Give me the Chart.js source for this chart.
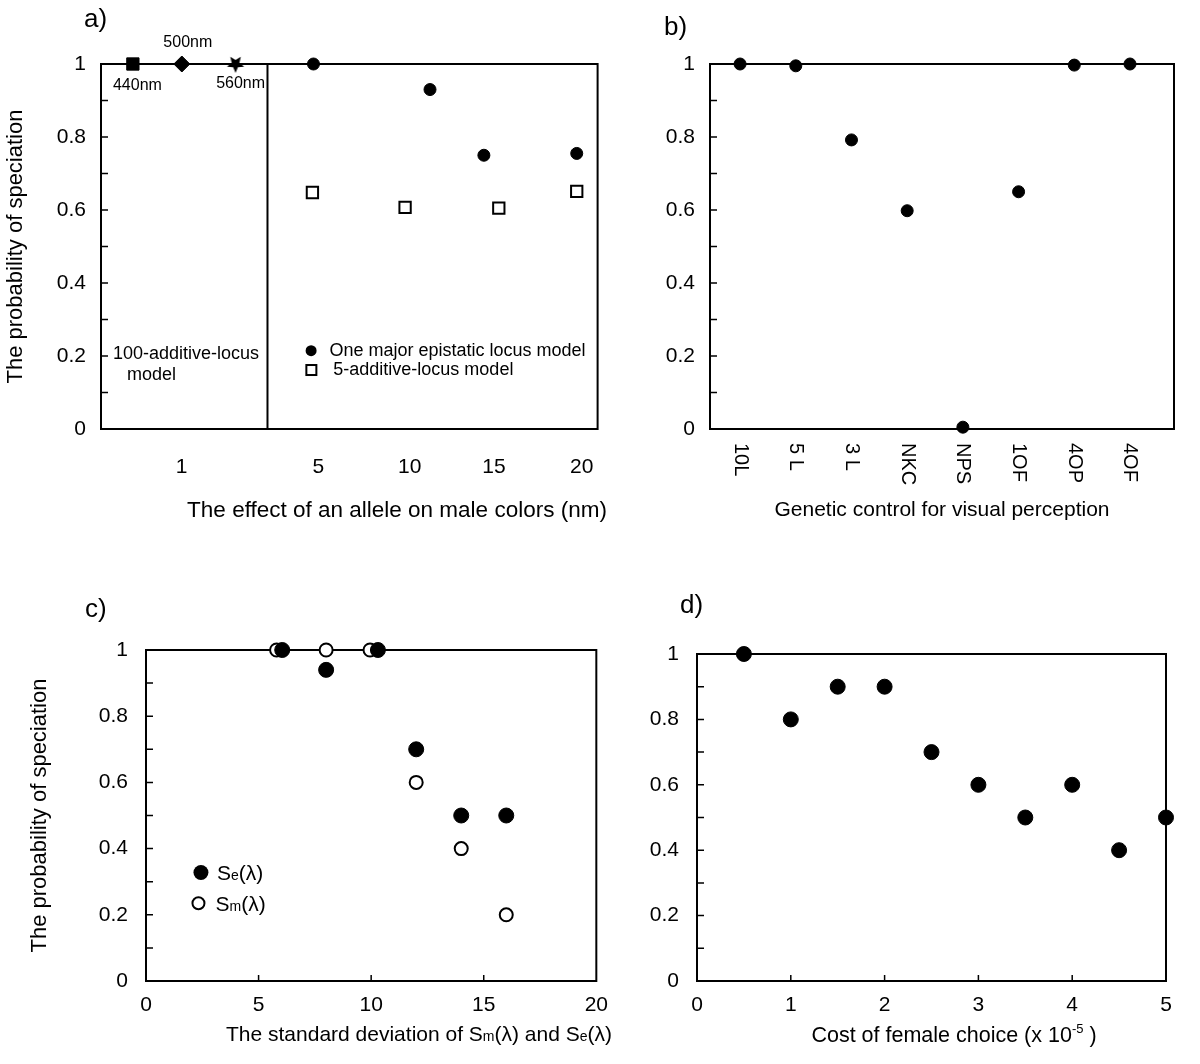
<!DOCTYPE html>
<html>
<head>
<meta charset="utf-8">
<script src="https://cdn.jsdelivr.net/npm/chart.js@4.4.1/dist/chart.umd.min.js"></script>
<style>
  html, body { margin: 0; padding: 0; background: #fff; }
  #page { position: relative; width: 1200px; height: 1064px; }
  canvas { position: absolute; }
</style>
</head>
<body>
<div id="page">
  <canvas id="chartA" width="620" height="540" style="left:0;top:0"></canvas>
  <canvas id="chartB" width="580" height="540" style="left:620px;top:0"></canvas>
  <canvas id="chartC" width="620" height="524" style="left:0;top:540px"></canvas>
  <canvas id="chartD" width="580" height="524" style="left:620px;top:540px"></canvas>
</div>
<script>
// a) effet d'un allele sur la couleur des males
const aTickPos = [-2.8, 5, 10.2, 15, 20];
const aTickLabels = ['1', '5', '10', '15', '20'];
const aWaveX = [-5.57, -2.78, 0.28];
const aWaveY = [1, 1, 1];
const aWaveLabels = ['440nm', '500nm', '560nm'];
const aEpiX = [4.72, 11.36, 14.43, 19.72];
const aEpiY = [1, 0.93, 0.75, 0.755];
const aAddX = [4.66, 9.94, 15.28, 19.72];
const aAddY = [0.648, 0.607, 0.605, 0.651];
const aDivider = 2.1;

// b) controle genetique de la perception
const bCategories = ['10L', '5 L', '3 L', 'NKC', 'NPS', '1OF', '4OP', '4OF'];
const bValues = [1, 0.995, 0.792, 0.598, 0.005, 0.65, 0.997, 1];

// c) ecart-type de Sm et Se
const cSeX = [6.05, 8, 10.3, 12, 14, 16];
const cSeY = [1, 0.94, 1, 0.7, 0.5, 0.5];
const cSmX = [5.8, 8, 9.95, 12, 14, 16];
const cSmY = [1, 1, 1, 0.6, 0.4, 0.2];
const cTicks = [5, 10, 15];

// d) cout du choix des femelles
const dCost = [0.5, 1, 1.5, 2, 2.5, 3, 3.5, 4, 4.5, 5];
const dProb = [1, 0.8, 0.9, 0.9, 0.7, 0.6, 0.5, 0.6, 0.4, 0.5];
const dTicks = [1, 2, 3, 4];

const yMinorTicks = [0, 0.1, 0.2, 0.3, 0.4, 0.5, 0.6, 0.7, 0.8, 0.9, 1];

const FONT = '"Liberation Sans", Arial, Helvetica, sans-serif';
Chart.defaults.font.family = FONT;
Chart.defaults.color = '#000';

function pts(xs, ys) {
    return xs.map((x, i) => ({ x: x, y: ys[i] }));
}

// texte en plusieurs morceaux (indices, exposants)
function drawParts(ctx, parts, x, y, align) {
    let total = 0;
    parts.forEach(p => {
        ctx.font = p[1] + 'px ' + FONT;
        total += ctx.measureText(p[0]).width;
    });
    let cx = align === 'center' ? x - total / 2 : x;
    ctx.textAlign = 'left';
    ctx.textBaseline = 'alphabetic';
    ctx.fillStyle = '#000';
    parts.forEach(p => {
        ctx.font = p[1] + 'px ' + FONT;
        ctx.fillText(p[0], cx, y + (p[2] || 0));
        cx += ctx.measureText(p[0]).width;
    });
}

function makeStar(r) {
    const c = document.createElement('canvas');
    const s = Math.ceil(r * 2 + 2);
    c.width = s;
    c.height = s;
    const g = c.getContext('2d');
    g.translate(s / 2, s / 2);
    g.beginPath();
    for (let i = 0; i < 10; i++) {
        const rad = i % 2 ? r * 0.45 : r;
        const ang = Math.PI / 2 + i * Math.PI / 5;
        g.lineTo(Math.cos(ang) * rad, Math.sin(ang) * rad);
    }
    g.closePath();
    g.fillStyle = '#000';
    g.fill();
    return c;
}

// cadre + graduations vers l'interieur
function makeFrame(yTicks, xTicks) {
    return {
        id: 'frame',
        beforeDatasetsDraw(chart) {
            const { ctx, chartArea: a, scales } = chart;
            ctx.save();
            ctx.strokeStyle = '#000';
            ctx.lineWidth = 2;
            ctx.strokeRect(a.left, a.top, a.right - a.left, a.bottom - a.top);
            ctx.lineWidth = 1.5;
            ctx.beginPath();
            yTicks.forEach(v => {
                const y = scales.y.getPixelForValue(v);
                ctx.moveTo(a.left, y);
                ctx.lineTo(a.left + 7, y);
            });
            xTicks.forEach(v => {
                const x = scales.x.getPixelForValue(v);
                ctx.moveTo(x, a.bottom);
                ctx.lineTo(x, a.bottom - 6);
            });
            ctx.stroke();
            ctx.restore();
        }
    };
}

function panelLabel(text, x, y) {
    return {
        id: 'panelLabel',
        afterDraw(chart) {
            const ctx = chart.ctx;
            ctx.save();
            ctx.font = '26px ' + FONT;
            ctx.fillStyle = '#000';
            ctx.textAlign = 'left';
            ctx.textBaseline = 'alphabetic';
            ctx.fillText(text, x, y);
            ctx.restore();
        }
    };
}

function yAxis(width, title, titlePad, tickPad) {
    return {
        min: 0,
        max: 1,
        ticks: {
            stepSize: 0.2,
            padding: tickPad,
            font: { size: 21 },
            color: '#000',
            callback: v => String(Math.round(v * 10) / 10)
        },
        grid: { display: false, drawTicks: false },
        border: { display: false },
        title: {
            display: !!title,
            text: title,
            font: { size: 22 },
            color: '#000',
            padding: { top: titlePad, bottom: 0 }
        },
        afterFit: s => { s.width = width; }
    };
}

function baseOptions(padding) {
    return {
        responsive: false,
        animation: false,
        events: [],
        layout: { padding: padding },
        plugins: { legend: { display: false }, tooltip: { enabled: false } }
    };
}

// ---------- a) ----------
const optsA = baseOptions({ top: 64, right: 21, left: 0, bottom: 0 });
optsA.scales = {
    x: {
        type: 'linear',
        min: -7.386,
        max: 20.909,
        afterBuildTicks: s => { s.ticks = aTickPos.map(v => ({ value: v })); },
        ticks: {
            callback: (v, i) => aTickLabels[i],
            autoSkip: false,
            maxRotation: 0,
            padding: 26,
            font: { size: 21 },
            color: '#000'
        },
        grid: { display: false, drawTicks: false },
        border: { display: false },
        afterFit: s => { s.height = 111; }
    },
    y: yAxis(101, 'The probability of speciation', 3, 15)
};

const annotA = {
    id: 'annotA',
    beforeDatasetsDraw(chart) {
        const { ctx, chartArea: a, scales: { x } } = chart;
        ctx.save();
        ctx.strokeStyle = '#000';
        ctx.lineWidth = 2;
        ctx.beginPath();
        ctx.moveTo(x.getPixelForValue(aDivider), a.top);
        ctx.lineTo(x.getPixelForValue(aDivider), a.bottom);
        ctx.stroke();
        ctx.restore();
    },
    afterDraw(chart) {
        const { ctx, scales: { x, y } } = chart;
        ctx.save();
        ctx.fillStyle = '#000';
        ctx.font = '16px ' + FONT;
        ctx.textAlign = 'center';
        ctx.textBaseline = 'middle';
        const wavePos = [[-5.31, 0.94], [-2.44, 1.06], [0.57, 0.945]];
        aWaveLabels.forEach((t, i) => {
            ctx.fillText(t, x.getPixelForValue(wavePos[i][0]), y.getPixelForValue(wavePos[i][1]));
        });
        ctx.font = '18px ' + FONT;
        ctx.textAlign = 'left';
        ctx.fillText('100-additive-locus', x.getPixelForValue(-6.7), y.getPixelForValue(0.2055));
        ctx.fillText('model', x.getPixelForValue(-5.91), y.getPixelForValue(0.148));

        // legende
        const lx1 = x.getPixelForValue(4.585), ly1 = y.getPixelForValue(0.2145);
        ctx.beginPath();
        ctx.arc(lx1, ly1, 5.5, 0, Math.PI * 2);
        ctx.fill();
        ctx.fillText('One major epistatic locus model', x.getPixelForValue(5.63), ly1);
        const lx2 = x.getPixelForValue(4.6), ly2 = y.getPixelForValue(0.1616);
        ctx.strokeStyle = '#000';
        ctx.lineWidth = 2;
        ctx.strokeRect(lx2 - 5, ly2 - 5, 10, 10);
        ctx.fillText('5-additive-locus model', x.getPixelForValue(5.85), ly2);
        ctx.restore();

        drawParts(ctx, [['The effect of an allele on male colors (nm)', 22.5]], 397, 517, 'center');
    }
};

new Chart(document.getElementById('chartA'), {
    type: 'scatter',
    data: {
        datasets: [
            {
                data: pts(aWaveX, aWaveY),
                pointStyle: ['rect', 'rectRot', makeStar(9)],
                pointRadius: [8.7, 8, 9],
                backgroundColor: '#000',
                borderColor: '#000',
                borderWidth: 1,
                clip: false
            },
            {
                data: pts(aEpiX, aEpiY),
                pointStyle: 'circle',
                pointRadius: 6,
                backgroundColor: '#000',
                borderColor: '#000',
                borderWidth: 1,
                clip: false
            },
            {
                data: pts(aAddX, aAddY),
                pointStyle: 'rect',
                pointRadius: 8,
                backgroundColor: '#fff',
                borderColor: '#000',
                borderWidth: 2,
                clip: false
            }
        ]
    },
    options: optsA,
    plugins: [makeFrame(yMinorTicks, []), annotA, panelLabel('a)', 84, 27)]
});

// ---------- b) ----------
const optsB = baseOptions({ top: 64, right: 26, left: 0, bottom: 0 });
optsB.scales = {
    x: {
        type: 'linear',
        min: -0.54,
        max: 7.79,
        ticks: { display: false },
        grid: { display: false, drawTicks: false },
        border: { display: false },
        afterFit: s => { s.height = 111; }
    },
    y: yAxis(90, '', 0, 15)
};

const annotB = {
    id: 'annotB',
    afterDraw(chart) {
        const { ctx, chartArea: a, scales: { x } } = chart;
        ctx.save();
        ctx.fillStyle = '#000';
        ctx.font = '20px ' + FONT;
        ctx.textAlign = 'left';
        ctx.textBaseline = 'middle';
        bCategories.forEach((c, i) => {
            ctx.save();
            ctx.translate(x.getPixelForValue(i), a.bottom + 14);
            ctx.rotate(Math.PI / 2);
            ctx.fillText(c, 0, 0);
            ctx.restore();
        });
        ctx.restore();
        drawParts(ctx, [['Genetic control for visual perception', 21]], 322, 516, 'center');
    }
};

new Chart(document.getElementById('chartB'), {
    type: 'scatter',
    data: {
        datasets: [{
            data: bCategories.map((c, i) => ({ x: i, y: bValues[i] })),
            pointStyle: 'circle',
            pointRadius: 6,
            backgroundColor: '#000',
            borderColor: '#000',
            borderWidth: 1,
            clip: false
        }]
    },
    options: optsB,
    plugins: [makeFrame(yMinorTicks, []), annotB, panelLabel('b)', 44, 35)]
});

// ---------- c) ----------
const optsC = baseOptions({ top: 110, right: 17, left: 0, bottom: 0 });
optsC.scales = {
    x: {
        type: 'linear',
        min: 0,
        max: 20,
        ticks: { stepSize: 5, padding: 12, maxRotation: 0, font: { size: 21 }, color: '#000' },
        grid: { display: false, drawTicks: false },
        border: { display: false },
        afterFit: s => { s.height = 83; }
    },
    y: yAxis(146, 'The probability of speciation', 27, 18)
};

const annotC = {
    id: 'annotC',
    afterDraw(chart) {
        const { ctx, scales: { x, y } } = chart;
        ctx.save();
        const p1x = x.getPixelForValue(2.44), p1y = y.getPixelForValue(0.328);
        ctx.fillStyle = '#000';
        ctx.beginPath();
        ctx.arc(p1x, p1y, 7.5, 0, Math.PI * 2);
        ctx.fill();
        const p2x = x.getPixelForValue(2.33), p2y = y.getPixelForValue(0.235);
        ctx.strokeStyle = '#000';
        ctx.lineWidth = 2;
        ctx.beginPath();
        ctx.arc(p2x, p2y, 6, 0, Math.PI * 2);
        ctx.stroke();
        ctx.restore();
        drawParts(ctx, [['S', 21], ['e', 14], ['(λ)', 21]], x.getPixelForValue(3.15), p1y + 8, 'left');
        drawParts(ctx, [['S', 21], ['m', 14], ['(λ)', 21]], x.getPixelForValue(3.09), p2y + 8, 'left');
        drawParts(ctx, [['The standard deviation of S', 21], ['m', 14], ['(λ) and S', 21], ['e', 14], ['(λ)', 21]], 419, 501, 'center');
    }
};

new Chart(document.getElementById('chartC'), {
    type: 'scatter',
    data: {
        datasets: [
            {
                data: pts(cSeX, cSeY),
                pointStyle: 'circle',
                pointRadius: 7.5,
                backgroundColor: '#000',
                borderColor: '#000',
                borderWidth: 1,
                clip: false
            },
            {
                data: pts(cSmX, cSmY),
                pointStyle: 'circle',
                pointRadius: 6.5,
                backgroundColor: '#fff',
                borderColor: '#000',
                borderWidth: 2,
                clip: false
            }
        ]
    },
    options: optsC,
    plugins: [makeFrame(yMinorTicks, cTicks), annotC, panelLabel('c)', 85, 77)]
});

// ---------- d) ----------
const optsD = baseOptions({ top: 114, right: 34, left: 0, bottom: 0 });
optsD.scales = {
    x: {
        type: 'linear',
        min: 0,
        max: 5,
        ticks: { stepSize: 1, padding: 12, maxRotation: 0, font: { size: 21 }, color: '#000' },
        grid: { display: false, drawTicks: false },
        border: { display: false },
        afterFit: s => { s.height = 83; }
    },
    y: yAxis(77, '', 0, 18)
};

const annotD = {
    id: 'annotD',
    afterDraw(chart) {
        drawParts(chart.ctx, [['Cost of female choice (x 10', 21.5], ['-5', 13, -9], [' )', 21.5]], 334, 502, 'center');
    }
};

new Chart(document.getElementById('chartD'), {
    type: 'scatter',
    data: {
        datasets: [{
            data: pts(dCost, dProb),
            pointStyle: 'circle',
            pointRadius: 7.5,
            backgroundColor: '#000',
            borderColor: '#000',
            borderWidth: 1,
            clip: false
        }]
    },
    options: optsD,
    plugins: [makeFrame(yMinorTicks, dTicks), annotD, panelLabel('d)', 60, 73)]
});
</script>
</body>
</html>
